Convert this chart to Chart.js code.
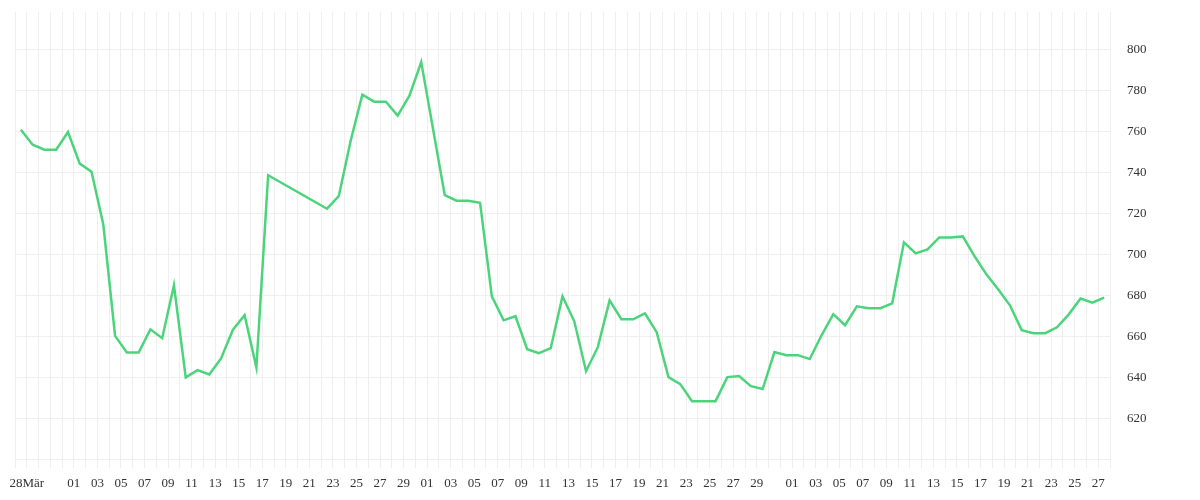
<!DOCTYPE html>
<html>
<head>
<meta charset="utf-8">
<script src="https://cdn.jsdelivr.net/npm/chart.js@4/dist/chart.umd.min.js"></script>
<style>
  html, body { margin: 0; padding: 0; background: #ffffff; }
  #wrap { width: 1200px; height: 500px; }
</style>
</head>
<body>
<div id="wrap"><canvas id="chart"></canvas></div>
<script>
// Daily closing values, 27 Mar - 27 Jun (gaps where the source has no data)
const dates = [
  '03-27', '03-28', '03-29', '03-30', '03-31',
  '04-01', '04-02', '04-03', '04-04', '04-05', '04-06', '04-07', '04-08', '04-09', '04-10',
  '04-11', '04-12', '04-13', '04-14', '04-15', '04-16', '04-17',
  '04-22', '04-23', '04-24', '04-25', '04-26', '04-27', '04-28', '04-29', '04-30',
  '05-02', '05-03', '05-04', '05-05', '05-06', '05-07', '05-08', '05-09', '05-10',
  '05-11', '05-12', '05-13', '05-14', '05-15', '05-16', '05-17', '05-18', '05-19', '05-20',
  '05-21', '05-22', '05-23', '05-24', '05-25', '05-26', '05-27', '05-28', '05-29', '05-30',
  '05-31', '06-01', '06-02', '06-03', '06-04', '06-05', '06-06', '06-07', '06-08', '06-09',
  '06-10', '06-11', '06-12', '06-13', '06-14', '06-15', '06-16', '06-17', '06-18', '06-19',
  '06-20', '06-21', '06-22', '06-23', '06-24', '06-25', '06-26', '06-27'
];
const values = [
  760.7, 753.4, 751.0, 751.0, 759.6,
  744.2, 740.2, 714.5, 660.2, 652.1, 652.1, 663.4, 659.1, 684.9, 640.0,
  643.5, 641.4, 649.2, 663.1, 670.3, 644.8, 738.5,
  722.2, 728.3, 755.1, 777.8, 774.4, 774.4, 767.6, 777.3, 793.7,
  728.8, 726.1, 726.1, 725.1, 679.5, 667.8, 669.8, 653.7, 651.8,
  654.2, 679.5, 667.3, 643.0, 654.7, 677.5, 668.3, 668.3, 671.2, 662.0,
  640.1, 636.7, 628.4, 628.4, 628.4, 640.1, 640.6, 635.7, 634.3, 652.3,
  650.8, 650.8, 648.9, 660.5, 670.8, 665.4, 674.6, 673.7, 673.7, 676.1,
  705.8, 700.4, 702.4, 708.2, 708.2, 708.7, 699.0, 690.2, 682.9, 675.1,
  663.0, 661.5, 661.5, 664.4, 670.7, 678.4, 676.4, 678.9
];
const yTicks = [600, 620, 640, 660, 680, 700, 720, 740, 760, 780, 800];
const monthNames = ['Jan', 'Feb', 'Mär', 'Apr', 'Mai', 'Jun', 'Jul', 'Aug', 'Sep', 'Okt', 'Nov', 'Dez'];

const YEAR = 2021;
const DAY = 86400000;
const start = Date.UTC(YEAR, 2, 27);
const totalDays = 93;

function dayIndex(md) {
  const [m, d] = md.split('-').map(Number);
  return (Date.UTC(YEAR, m - 1, d) - start) / DAY;
}

// points sit at midday
const points = dates.map((d, i) => ({ x: dayIndex(d) + 0.5, y: values[i] }));

function dayLabel(idx) {
  const dt = new Date(start + idx * DAY);
  const day = dt.getUTCDate();
  const month = dt.getUTCMonth();
  if (idx === 1) return String(day).padStart(2, '0') + monthNames[month];
  if (month >= 3 && day % 2 === 1 && day !== 31) return String(day).padStart(2, '0');
  return '';
}

Chart.defaults.font.family = '"Liberation Serif", "Times New Roman", serif';
Chart.defaults.font.size = 13;
Chart.defaults.color = '#333333';

new Chart(document.getElementById('chart'), {
  type: 'line',
  data: {
    datasets: [{
      data: points,
      borderColor: '#4cd47c',
      borderWidth: 2.5,
      pointRadius: 0,
      tension: 0,
      fill: false
    }]
  },
  options: {
    responsive: true,
    maintainAspectRatio: false,
    animation: false,
    layout: { padding: { top: 12, left: 15, right: 0, bottom: 0 } },
    plugins: { legend: { display: false }, tooltip: { enabled: false } },
    scales: {
      x: {
        type: 'linear',
        min: 0,
        max: totalDays,
        afterBuildTicks: axis => {
          const t = [];
          for (let i = 0; i <= totalDays; i++) t.push({ value: i });
          axis.ticks = t;
        },
        afterFit: s => { s.height = 32; s.paddingLeft = 0; s.paddingRight = 0; },
        grid: { color: '#efefef', drawTicks: false },
        border: { display: false },
        ticks: {
          autoSkip: false,
          maxRotation: 0,
          padding: 8,
          callback: v => dayLabel(v)
        }
      },
      y: {
        position: 'right',
        min: 595.8,
        max: 818.1,
        afterBuildTicks: axis => { axis.ticks = yTicks.map(v => ({ value: v })); },
        afterFit: s => { s.width = 90; s.paddingTop = 0; s.paddingBottom = 0; },
        grid: { color: '#efefef', drawTicks: false },
        border: { display: false },
        ticks: {
          padding: 17,
          callback: v => (v === 600 ? '' : String(v))
        }
      }
    }
  }
});
</script>
</body>
</html>
